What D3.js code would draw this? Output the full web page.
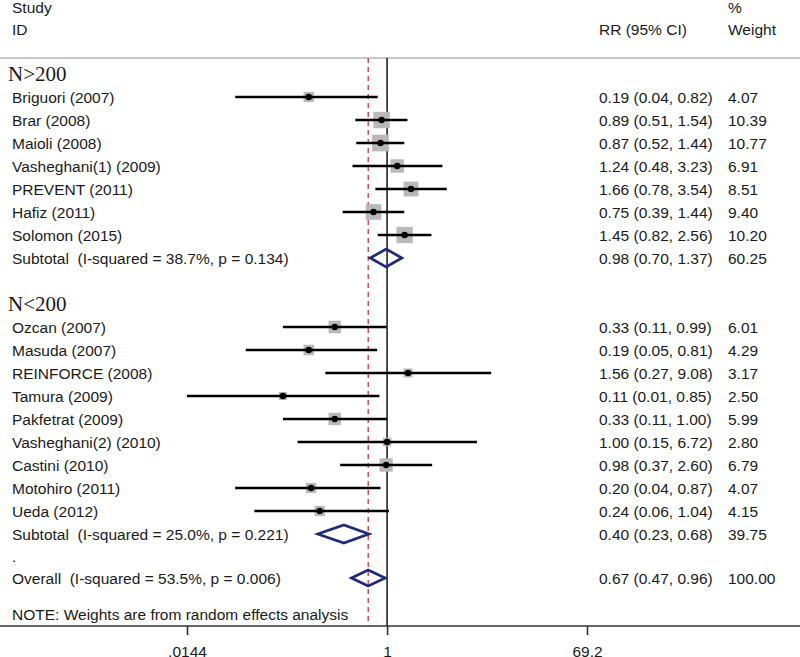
<!DOCTYPE html>
<html><head><meta charset="utf-8">
<script src="https://cdn.jsdelivr.net/npm/d3@7"></script>
<style>
html,body{margin:0;padding:0;background:#fff;}
svg text{font-family:"Liberation Sans",Arial,sans-serif;fill:#1a1a1a;white-space:pre;}
</style></head>
<body>
<svg id="c" width="800" height="657"></svg>
<script>
// ---- data ----
const groupLabels = ["N>200", "N<200"];
const studies1 = ["Briguori (2007)","Brar (2008)","Maioli (2008)","Vasheghani(1) (2009)","PREVENT (2011)","Hafiz (2011)","Solomon (2015)"];
const rr1 = [0.19,0.89,0.87,1.24,1.66,0.75,1.45];
const lo1 = [0.04,0.51,0.52,0.48,0.78,0.39,0.82];
const hi1 = [0.82,1.54,1.44,3.23,3.54,1.44,2.56];
const w1  = ["4.07","10.39","10.77","6.91","8.51","9.40","10.20"];
const sub1 = {label:"Subtotal  (I-squared = 38.7%, p = 0.134)", rr:0.98, lo:0.70, hi:1.37, w:"60.25"};

const studies2 = ["Ozcan (2007)","Masuda (2007)","REINFORCE (2008)","Tamura (2009)","Pakfetrat (2009)","Vasheghani(2) (2010)","Castini (2010)","Motohiro (2011)","Ueda (2012)"];
const rr2 = [0.33,0.19,1.56,0.11,0.33,1.00,0.98,0.20,0.24];
const lo2 = [0.11,0.05,0.27,0.01,0.11,0.15,0.37,0.04,0.06];
const hi2 = [0.99,0.81,9.08,0.85,1.00,6.72,2.60,0.87,1.04];
const w2  = ["6.01","4.29","3.17","2.50","5.99","2.80","6.79","4.07","4.15"];
const sub2 = {label:"Subtotal  (I-squared = 25.0%, p = 0.221)", rr:0.40, lo:0.23, hi:0.68, w:"39.75"};

const overall = {label:"Overall  (I-squared = 53.5%, p = 0.006)", rr:0.67, lo:0.47, hi:0.96, w:"100.00"};
const tickValues = [0.0144, 1, 69.2];
const tickLabels = [".0144", "1", "69.2"];
const note = "NOTE: Weights are from random effects analysis";

// ---- layout ----
const svg = d3.select("#c");
const x = d3.scaleLog().domain([0.0144, 69.2]).range([187, 587]).clamp(true);
const rowY = i => 74 + 23 * i;
const topY = 58, axisY = 626;
const rrX = 599, wX = 728, labX = 12;
const FS = 15.5;
const fmt = v => v.toFixed(2);
const ciText = (r,l,h) => `${fmt(r)} (${fmt(l)}, ${fmt(h)})`;

// header
svg.append("text").attr("x",labX).attr("y",12.5).attr("font-size",FS).text("Study");
svg.append("text").attr("x",labX).attr("y",34.5).attr("font-size",FS).text("ID");
svg.append("text").attr("x",rrX).attr("y",34.5).attr("font-size",FS).text("RR (95% CI)");
svg.append("text").attr("x",wX).attr("y",12.5).attr("font-size",FS).text("%");
svg.append("text").attr("x",wX).attr("y",34.5).attr("font-size",FS).text("Weight");
svg.append("line").attr("x1",0).attr("x2",800).attr("y1",topY).attr("y2",topY)
  .attr("stroke","#c8c8c8").attr("stroke-width",2);

// reference lines
svg.append("line").attr("x1",x(1)).attr("x2",x(1)).attr("y1",topY).attr("y2",axisY)
  .attr("stroke","#222").attr("stroke-width",1.6);
svg.append("line").attr("x1",x(overall.rr)).attr("x2",x(overall.rr)).attr("y1",topY).attr("y2",axisY)
  .attr("stroke","#c0282d").attr("stroke-width",1.2).attr("stroke-dasharray","5,4");

// build rows
const rows = [];
rows.push({type:"group", label:groupLabels[0], i:0});
studies1.forEach((s,k)=>rows.push({type:"study", label:s, rr:rr1[k], lo:lo1[k], hi:hi1[k], w:w1[k], i:1+k}));
rows.push(Object.assign({type:"diamond", i:8}, sub1));
rows.push({type:"group", label:groupLabels[1], i:10});
studies2.forEach((s,k)=>rows.push({type:"study", label:s, rr:rr2[k], lo:lo2[k], hi:hi2[k], w:w2[k], i:11+k}));
rows.push(Object.assign({type:"diamond", i:20}, sub2));
rows.push(Object.assign({type:"diamond", i:22, yOff:-2}, overall));

rows.forEach(r => {
  const y = rowY(r.i) + (r.yOff||0);
  if (r.type === "group") {
    svg.append("text").attr("x",8).attr("y",y+7).attr("font-size",21)
      .style("font-family","'Liberation Serif','Times New Roman',serif").text(r.label);
    return;
  }
  svg.append("text").attr("x",labX).attr("y",y+5.5).attr("font-size",FS).text(r.label);
  svg.append("text").attr("x",rrX).attr("y",y+5.5).attr("font-size",FS).text(ciText(r.rr,r.lo,r.hi));
  svg.append("text").attr("x",wX).attr("y",y+5.5).attr("font-size",FS).text(r.w);
  if (r.type === "study") {
    const s = 5.1 * Math.sqrt(+r.w);
    svg.append("rect").attr("x",x(r.rr)-s/2).attr("y",y-s/2).attr("width",s).attr("height",s)
      .attr("fill","#b9b9b9");
    svg.append("line").attr("x1",x(r.lo)).attr("x2",x(r.hi)).attr("y1",y).attr("y2",y)
      .attr("stroke","#000").attr("stroke-width",2.6);
    svg.append("circle").attr("cx",x(r.rr)).attr("cy",y).attr("r",3.2).attr("fill","#000");
  } else {
    const h = r.i === 22 ? 8 : 9;
    const pts = [[x(r.lo),y],[x(r.rr),y-h],[x(r.hi),y],[x(r.rr),y+h]];
    svg.append("path").attr("d", d3.line()(pts) + "Z")
      .attr("fill","none").attr("stroke","#1f2a78").attr("stroke-width",2.7).attr("stroke-linejoin","miter");
  }
});

// stray dot row
svg.append("text").attr("x",labX).attr("y",rowY(21)+5).attr("font-size",FS).text(".");
// note
svg.append("text").attr("x",labX).attr("y",620).attr("font-size",FS).text(note);

// axis
svg.append("line").attr("x1",0).attr("x2",800).attr("y1",axisY).attr("y2",axisY)
  .attr("stroke","#333").attr("stroke-width",1.6);
const ax = svg.append("g").attr("transform",`translate(0,${axisY})`)
  .call(d3.axisBottom(x).tickValues(tickValues).tickFormat((d,i)=>tickLabels[i]).tickSize(9).tickSizeOuter(0));
ax.select(".domain").remove();
ax.selectAll(".tick line").attr("stroke","#333").attr("stroke-width",1.6);
ax.selectAll(".tick text").attr("font-size",FS).attr("y",0).attr("dy",0)
  .attr("transform","translate(0,31)")
  .style("font-family","'Liberation Sans',Arial,sans-serif").attr("fill","#1a1a1a");
</script>
</body></html>
